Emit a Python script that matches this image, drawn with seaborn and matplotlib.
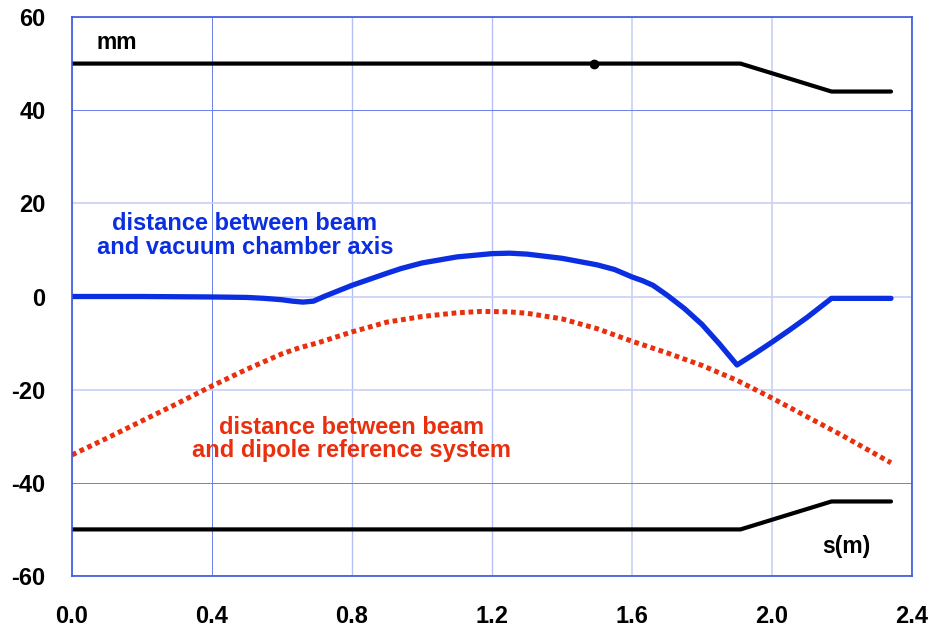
import matplotlib
matplotlib.use("Agg")
import matplotlib.pyplot as plt
import seaborn as sns
import pandas as pd

# ---- data ----
wall_s = [0.0, 1.91, 2.17, 2.34]
wall_top = [50, 50, 44, 44]
wall_bot = [-50, -50, -44, -44]
dot_s = [1.49]
dot_y = [50]

beam_s = [0.0, 0.2, 0.4, 0.5, 0.55, 0.6, 0.63, 0.66, 0.69, 0.72, 0.76, 0.8, 0.9, 0.94, 1.0, 1.1, 1.2, 1.25,
          1.3, 1.4, 1.5, 1.55, 1.6, 1.63, 1.66, 1.7, 1.75, 1.8, 1.85, 1.9, 1.95, 2.0, 2.05, 2.1, 2.17, 2.34]
beam_y = [0.0, 0.0, -0.1, -0.2, -0.4, -0.7, -1.0, -1.2, -1.0, 0.0, 1.2, 2.4, 5.0, 6.0, 7.2, 8.5, 9.2, 9.3,
          9.1, 8.2, 6.8, 5.8, 4.2, 3.4, 2.4, 0.3, -2.6, -6.0, -10.2, -14.7, -12.3, -9.8, -7.2, -4.5, -0.4, -0.4]

dip_s = [0.0, 0.1, 0.2, 0.3, 0.4, 0.5, 0.6, 0.65, 0.7, 0.8, 0.9, 1.0, 1.1, 1.17, 1.25, 1.3, 1.4, 1.5, 1.6,
         1.7, 1.8, 1.9, 2.0, 2.1, 2.2, 2.34]
dip_y = [-34.0, -30.4, -26.7, -23.0, -19.2, -15.6, -12.3, -11.0, -10.0, -7.6, -5.5, -4.3, -3.5, -3.2, -3.3,
         -3.6, -4.8, -6.9, -9.6, -12.1, -14.8, -18.0, -21.8, -25.8, -29.8, -35.7]

xticks = [0.0, 0.4, 0.8, 1.2, 1.6, 2.0, 2.4]
yticks = [-60, -40, -20, 0, 20, 40, 60]

# ---- plotting ----
sns.set_theme(style="white")
plt.rcParams['font.family'] = ['Liberation Sans', 'DejaVu Sans']

fig = plt.figure(figsize=(9.3, 6.3), dpi=100)
ax = fig.add_axes([72/930, 1-576/630, 840/930, 559/630])

BLUE = "#0a2ee0"
RED = "#e8300e"

walls = pd.DataFrame({"s": wall_s, "top": wall_top, "bot": wall_bot})
sns.lineplot(data=walls, x="s", y="top", ax=ax, color="black", lw=3.0, sort=False)
sns.lineplot(data=walls, x="s", y="bot", ax=ax, color="black", lw=3.0, sort=False)
ax.plot(dot_s, dot_y, "o", color="black", ms=6)

beam = pd.DataFrame({"s": beam_s, "y": beam_y})
sns.lineplot(data=beam, x="s", y="y", ax=ax, color=BLUE, lw=3.8, sort=False)

dip = pd.DataFrame({"s": dip_s, "y": dip_y})
sns.lineplot(data=dip, x="s", y="y", ax=ax, color=RED, lw=3.6, sort=False,
             linestyle=(0, (0.95, 0.75)))

ax.set_xlim(0, 2.4)
ax.set_ylim(-60, 60)
ax.set_xticks(xticks)
ax.set_yticks(yticks)
ax.set_xticklabels([f"{t:.1f}" for t in xticks], fontsize=17, fontweight="bold", color="black")
ax.set_yticklabels([str(t) for t in yticks], fontsize=17, fontweight="bold", color="black")
ax.set_xlabel("")
ax.set_ylabel("")
ax.tick_params(axis="x", pad=21, length=0)
ax.tick_params(axis="y", pad=19, length=0)

ax.grid(True, color="#c9d0f5", lw=1.2)
ax.set_axisbelow(True)
# a few grid lines are drawn thinner and darker in the original
for t, gl in zip(xticks, ax.xaxis.get_gridlines()):
    if t in (0.4,):
        gl.set_color("#6a80ea"); gl.set_linewidth(0.7)
    elif t in (0.8, 1.2):
        gl.set_color("#b3bff5"); gl.set_linewidth(1.0)
for t, gl in zip(yticks, ax.yaxis.get_gridlines()):
    if t in (40, -40):
        gl.set_color("#6a80ea"); gl.set_linewidth(0.7)
for sp in ax.spines.values():
    sp.set_color("#3a55e0")
    sp.set_linewidth(1.2)

ax.text(0.07, 54.6, "mm", fontsize=16.5, fontweight="bold", color="black", ha="left", va="center")
ax.text(2.144, -53.6, "s(m)", fontsize=16.5, fontweight="bold", color="black", ha="left", va="center")
ax.text(0.494, 13.1, "distance between beam\nand vacuum chamber axis", fontsize=17,
        fontweight="bold", color=BLUE, ha="center", va="center", linespacing=1.02)
ax.text(0.798, -30.6, "distance between beam\nand dipole reference system", fontsize=17,
        fontweight="bold", color=RED, ha="center", va="center", linespacing=1.02)

fig.savefig("out.png", dpi=100)
